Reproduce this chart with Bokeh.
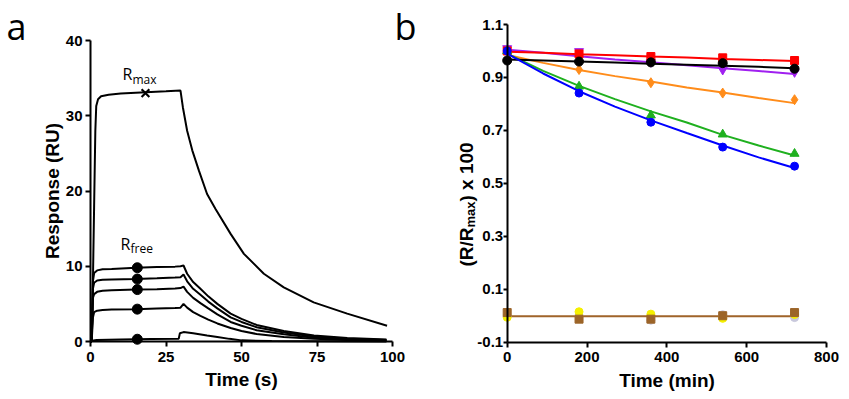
import math
from bokeh.plotting import figure
from bokeh.layouts import row
from bokeh.models import Range1d, FixedTicker, Label, NumeralTickFormatter, LinearAxis
from bokeh.embed import file_html
from bokeh.resources import INLINE

# ---------------- Panel a: sensorgrams ----------------
big_t = [0, 0.4, 0.8, 1.2, 1.6, 1.9, 2.5, 3.5, 6, 10, 15, 20, 25, 29.8, 30.6, 32.0, 33.7, 35.9,
         38.6, 41.4, 46.4, 50.8, 57.4, 64.0, 73.9, 85.0, 98.2]
big_v = [0, 0, 8, 18, 28, 31.3, 32.2, 32.6, 32.8, 32.95, 33.05, 33.15, 33.25, 33.35, 31.1, 28.0,
         25.4, 22.7, 19.6, 17.6, 14.3, 11.65, 9.0, 7.2, 5.2, 3.7, 2.1]

sm_t = [0, 0.4, 0.8, 1.2, 2.2, 4, 7, 15, 22, 28, 29.8, 30.8, 32, 34, 36.4, 39, 42, 46.4, 50,
        55, 64, 74, 85, 98]
c1_v = [0, 0, 8.0, 9.1, 9.45, 9.6, 9.65, 9.8, 9.9, 9.95, 10.0, 10.1, 9.0, 7.9, 7.0, 6.0, 5.0,
        3.7, 3.0, 2.2, 1.4, 0.8, 0.45, 0.25]
c2_v = [0, 0, 7.0, 7.8, 8.1, 8.2, 8.25, 8.3, 8.4, 8.5, 8.55, 8.9, 8.0, 7.0, 6.2, 5.3, 4.4,
        3.2, 2.6, 1.9, 1.2, 0.65, 0.35, 0.2]
c3_v = [0, 0, 5.8, 6.3, 6.6, 6.75, 6.8, 6.9, 6.95, 7.05, 7.1, 7.3, 6.6, 5.8, 5.1, 4.4, 3.6,
        2.6, 2.1, 1.5, 0.95, 0.5, 0.28, 0.15]
c4_v = [0, 0, 3.2, 3.9, 4.1, 4.2, 4.25, 4.3, 4.38, 4.45, 4.5, 5.0, 4.5, 3.9, 3.4, 2.9, 2.4,
        1.8, 1.4, 1.0, 0.6, 0.35, 0.2, 0.1]
c5_t = [0, 0.5, 2, 10, 20, 29.2, 29.6, 30.8, 34, 38.6, 42, 46, 50, 60, 98]
c5_v = [0, 0.1, 0.2, 0.28, 0.32, 0.35, 1.1, 1.25, 1.1, 0.8, 0.6, 0.35, 0.15, 0.05, 0.0]

rfree_t = [15.5, 15.5, 15.5, 15.5, 15.5]
rfree_v = [9.8, 8.3, 6.9, 4.3, 0.3]
rmax_t = [18.2]
rmax_v = [33.0]
a_xticks = [0, 25, 50, 75, 100]
a_yticks = [0, 10, 20, 30, 40]

# ---------------- Panel b: normalised response ----------------
tb = [0, 180, 360, 540, 720]
blue_v = [1.0, 0.841, 0.731, 0.637, 0.565]
green_v = [1.0, 0.866, 0.757, 0.685, 0.612]
orange_v = [1.0, 0.93, 0.88, 0.841, 0.816]
black_v = [0.964, 0.96, 0.957, 0.954, 0.933]
red_v = [1.0, 0.989, 0.979, 0.974, 0.964]
purple_v = [1.01, 0.999, 0.958, 0.929, 0.92]
brown_v = [0.012, -0.013, -0.013, 0.0, 0.012]
yellow_v = [-0.006, 0.015, 0.006, -0.01, 0.005]
grey_v = [-0.003, 0.002, -0.017, 0.004, -0.007]

fit_t = [0, 90, 180, 270, 360, 450, 540, 630, 720]
blue_fit = [0.99, 0.915, 0.848, 0.79, 0.738, 0.69, 0.643, 0.598, 0.558]
green_fit = [0.99, 0.925, 0.868, 0.818, 0.772, 0.73, 0.683, 0.643, 0.605]
orange_fit = [0.985, 0.955, 0.928, 0.905, 0.885, 0.862, 0.843, 0.822, 0.803]
black_fit = [0.968, 0.964, 0.96, 0.956, 0.952, 0.948, 0.944, 0.94, 0.935]
red_fit = [0.997, 0.993, 0.988, 0.984, 0.979, 0.975, 0.97, 0.966, 0.962]
purple_fit = [1.005, 0.993, 0.98, 0.968, 0.957, 0.946, 0.935, 0.924, 0.913]
brown_fit = [-0.002] * 9
b_xticks = [0, 200, 400, 600, 800]
b_yticks = [-0.1, 0.1, 0.3, 0.5, 0.7, 0.9, 1.1]

FONT = "Liberation Sans"
H = 395


def make_axis(ticks, bounds, label, tick_out, std, lab_std):
    ax = LinearAxis(fixed_location=0, bounds=bounds, ticker=FixedTicker(ticks=ticks))
    ax.axis_line_width = 2
    ax.axis_line_color = "black"
    ax.major_tick_line_width = 2
    ax.major_tick_line_color = "black"
    ax.major_tick_out = tick_out
    ax.major_tick_in = 0
    ax.minor_tick_line_color = None
    ax.major_label_text_font = FONT
    ax.major_label_text_font_size = "15px"
    ax.major_label_text_font_style = "bold"
    ax.major_label_text_color = "black"
    ax.major_label_standoff = std
    ax.axis_label = label
    ax.axis_label_text_font = FONT
    ax.axis_label_text_font_size = "19px"
    ax.axis_label_text_font_style = "bold"
    ax.axis_label_text_color = "black"
    ax.axis_label_standoff = lab_std
    return ax


def base_fig(w, xr, yr):
    p = figure(width=w, height=H, x_range=Range1d(*xr), y_range=Range1d(*yr),
               output_backend="svg", toolbar_location=None,
               x_axis_location=None, y_axis_location=None, min_border=0)
    p.title.visible = False
    p.xgrid.visible = False
    p.ygrid.visible = False
    p.outline_line_color = None
    return p


# ---------- figure a ----------
SX1, SY1 = 3.02, 7.525          # px per unit
W1 = 420
xlo1 = -90 / SX1
yhi1 = 40 + 40 / SY1
p1 = base_fig(W1, (xlo1, xlo1 + W1 / SX1), (yhi1 - H / SY1, yhi1))

xa1 = make_axis(a_xticks, (0, 100), "Time (s)", 5, 5, 4)
ya1 = make_axis(a_yticks, (0, 40), "Response (RU)", 5, 3, 0)
p1.add_layout(xa1, "below")
p1.add_layout(ya1, "left")

p1.line(big_t, big_v, line_color="black", line_width=2)
for cv in (c1_v, c2_v, c3_v, c4_v):
    p1.line(sm_t, cv, line_color="black", line_width=2)
p1.line(c5_t, c5_v, line_color="black", line_width=2)
p1.scatter(rfree_t, rfree_v, marker="circle", size=10, color="black")
p1.scatter(rmax_t, rmax_v, marker="x", size=11, line_width=2.2, color="black")


def px1(xp, yp):
    return (xp - 90) / SX1, (341 - yp) / SY1


def lab(p, pos, text, size, font="Open Sans", style="normal", angle=0.0, baseline="bottom"):
    p.add_layout(Label(x=pos[0], y=pos[1], text=text, text_font=font, text_font_size=size,
                       text_font_style=style, text_color="black", angle=angle,
                       text_baseline=baseline, text_align="left"))


# horizontal labels anchored at the bottom of the text box (baseline + descent)
lab(p1, px1(122, 84), "R", "16px")
lab(p1, px1(132, 87), "max", "12px")
lab(p1, px1(120, 254), "R", "16px")
lab(p1, px1(130, 256), "free", "12px")
lab(p1, px1(6, 50), "a", "36px")
lab(p1, px1(394, 50), "b", "36px")

# ---------- figure b ----------
SX2, SY2 = 0.3991, 264.75
W2 = 425
X0B = 506.7 - W1                # local pixel of x = 0
xlo2 = -X0B / SX2
yhi2 = 1.1 + 24 / SY2
p2 = base_fig(W2, (xlo2, xlo2 + W2 / SX2), (yhi2 - H / SY2, yhi2))

xa2 = make_axis(b_xticks, (0, 800), "Time (min)", 5, 5, 4)
xa2.fixed_location = -0.1
ya2 = make_axis(b_yticks, (-0.1, 1.1), "", 4, 0, 0)
ya2.formatter = NumeralTickFormatter(format="0.0")
p2.add_layout(xa2, "below")
p2.add_layout(ya2, "left")

LW = 2
p2.line(fit_t, brown_fit, line_color="#a0642a", line_width=LW)
p2.scatter(tb, grey_v, marker="circle", size=8, color="#c8c8dc")
p2.scatter(tb, yellow_v, marker="circle", size=8, color="#f5f000")
p2.scatter(tb, brown_v, marker="square", size=8, color="#9c6428")

p2.line(fit_t, purple_fit, line_color="#a020f0", line_width=LW)
p2.scatter(tb, purple_v, marker="inverted_triangle", size=9, color="#a020f0")
p2.line(fit_t, red_fit, line_color="#ff0000", line_width=LW)
p2.scatter(tb, red_v, marker="square", size=8, color="#ff0000")
p2.line(fit_t, orange_fit, line_color="#ff8c1a", line_width=LW)
p2.scatter(tb, orange_v, marker="diamond", size=10, color="#ff8c1a")
p2.line(fit_t, green_fit, line_color="#1fb01f", line_width=LW)
p2.scatter(tb, green_v, marker="triangle", size=9, color="#1fb01f")
p2.line(fit_t, black_fit, line_color="black", line_width=LW)
p2.scatter(tb, black_v, marker="circle", size=9, color="black")
p2.line(fit_t, blue_fit, line_color="#0000ff", line_width=LW)
p2.scatter(tb, blue_v, marker="circle", size=8, color="#0000ff")


def px2(xp, yp):
    return (xp - 506.7) / SX2, 1.1 - (yp - 24) / SY2


lab(p2, px2(466, 266), "(R/R", "19px", FONT, "bold", math.pi / 2, "alphabetic")
lab(p2, px2(470, 227), "max", "13px", FONT, "bold", math.pi / 2, "alphabetic")
lab(p2, px2(466, 201), ") x 100", "19px", FONT, "bold", math.pi / 2, "alphabetic")

layout = row(p1, p2)
open("out.html", "w").write(file_html(layout, INLINE))
